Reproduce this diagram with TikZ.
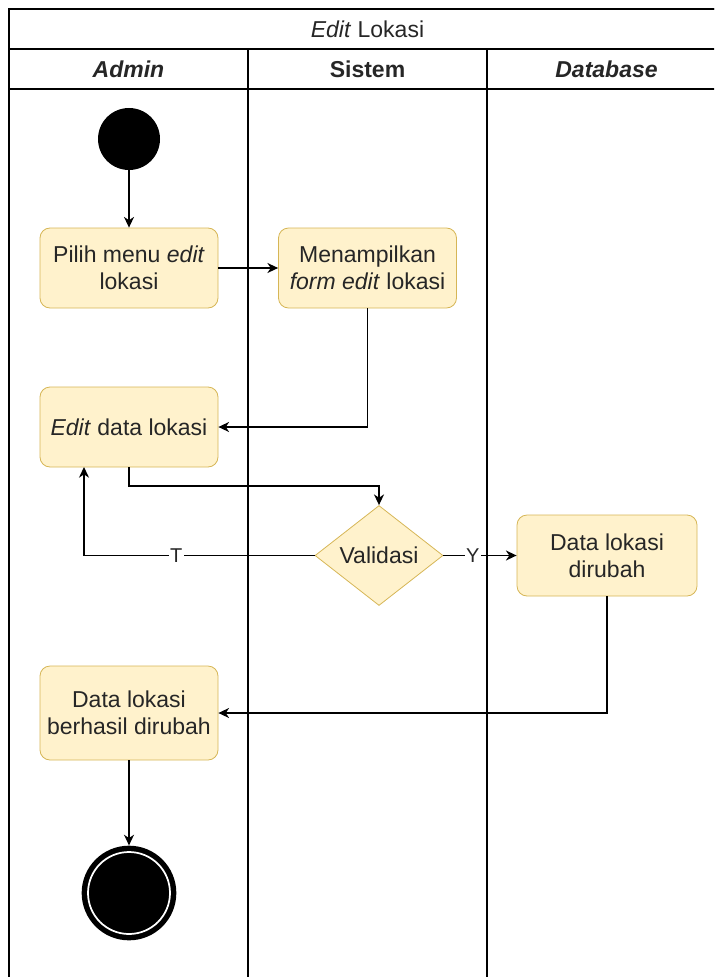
\documentclass[tikz,border=0pt]{standalone}
\usepackage{fontspec}
\setmainfont{Liberation Sans}
\usetikzlibrary{shapes.geometric,arrows.meta}
\definecolor{actfill}{HTML}{FFF2CC}
\definecolor{actline}{HTML}{D6B656}
\definecolor{txt}{HTML}{262626}
\begin{document}
\begin{tikzpicture}[x=0.75pt,y=-0.75pt,
  every node/.style={font=\fontsize{17.25}{20.25}\selectfont, text=txt},
  actbox/.style={draw=actline, fill=actfill, line width=0.6pt, rounded corners=7.5pt,
    minimum width=133.5pt, minimum height=60pt, align=center, inner sep=2pt},
  decide/.style={diamond, draw=actline, fill=actfill, line width=0.6pt,
    minimum width=96pt, minimum height=75pt, inner sep=0pt},
  flow/.style={line width=1.1pt, -{Stealth[length=8pt,width=7.5pt,inset=2.5pt]}},
  lane/.style={line width=1.2pt},
  guard/.style={fill=white, inner sep=1pt, font=\fontsize{15}{18}\selectfont}]

\useasboundingbox (0,0) rectangle (714,977);
\clip (0,0) rectangle (714,977);

% swimlane frame
\draw[lane] (9,990) -- (9,9) -- (730,9);
\draw[line width=2.2pt] (9,9) -- (730,9);
\draw[lane] (9,49) -- (730,49);
\draw[lane] (9,89) -- (730,89);
\draw[lane] (248,49) -- (248,990);
\draw[lane] (487,49) -- (487,990);

% titles
\node (title) at (367.5,29) {\textit{Edit} Lokasi};
\node[font=\fontsize{17.25}{20.25}\selectfont\bfseries\itshape] (hadmin) at (128.5,69) {Admin};
\node[font=\fontsize{17.25}{20.25}\selectfont\bfseries] (hsistem) at (367.5,69) {Sistem};
\node[font=\fontsize{17.25}{20.25}\selectfont\bfseries\itshape] (hdb) at (606.5,69) {Database};

% activity nodes
\node[circle, fill=black, minimum size=46.5pt, inner sep=0pt] (start) at (129,139) {};
\node[actbox] (pilih) at (129,268) {Pilih menu \textit{edit}\\lokasi};
\node[actbox] (form) at (367.5,268) {Menampilkan\\\textit{form edit} lokasi};
\node[actbox] (editdata) at (129,427) {\textit{Edit} data lokasi};
\node[decide] (valid) at (379,555.5) {Validasi};
\node[actbox, minimum width=135pt, minimum height=60.75pt] (ubah) at (607,555.5) {Data lokasi\\dirubah};
\node[actbox, minimum height=70.5pt] (hasil) at (129,713) {Data lokasi\\berhasil dirubah};
\node[circle, fill=black, minimum size=71pt, inner sep=0pt] (stop) at (129,893) {};
\draw[white, line width=1.3pt] (stop.center) circle[radius=41];

% connectors
\coordinate (elbow1) at (129,486);
\coordinate (elbow2) at (379,486);
\coordinate (backx) at (84,555.5);
\coordinate (backin) at (84,467);

\draw[flow] (start) -- (pilih);
\draw[flow] (pilih) -- (form);
\draw[flow] (form.south) |- (editdata.east);
\draw[flow] (editdata.south) -- (elbow1) -- (elbow2) -- (valid.north);
\draw[flow] (valid.west) -- node[guard, pos=0.6] (lblt) {T} (backx) -- (backin);
\draw[flow] (valid.east) -- node[guard, pos=0.4] (lbly) {Y} (ubah.west);
\draw[flow] (ubah.south) |- (hasil.east);
\draw[flow] (hasil) -- (stop);
\end{tikzpicture}
\end{document}
